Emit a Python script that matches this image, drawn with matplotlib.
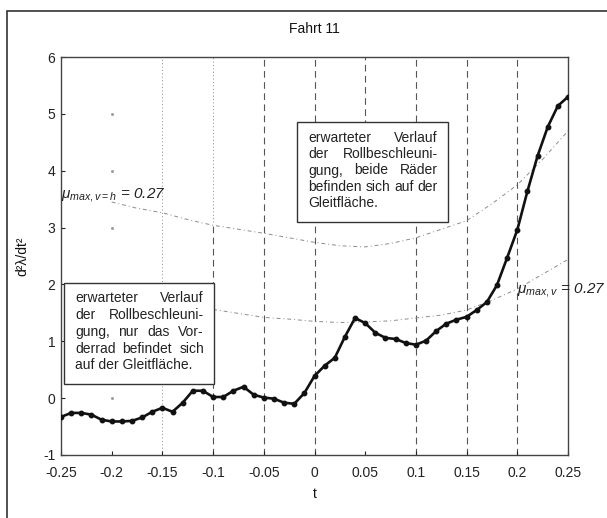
import numpy as np
import matplotlib
matplotlib.use("Agg")
import matplotlib.pyplot as plt
from matplotlib.patches import Rectangle

plt.rcParams["font.family"] = ["Liberation Sans", "DejaVu Sans"]
plt.rcParams["mathtext.fontset"] = "custom"
plt.rcParams["mathtext.rm"] = "Liberation Sans"
plt.rcParams["mathtext.it"] = "Liberation Sans:italic"
plt.rcParams["axes.unicode_minus"] = False

# measured roll acceleration, sampled every 0.01 s
t = np.round(np.arange(-0.25, 0.2501, 0.01), 2)
accel = [-0.33, -0.26, -0.26, -0.29, -0.38, -0.41, -0.41, -0.40, -0.34, -0.24,
         -0.17, -0.24, -0.08, 0.13, 0.13, 0.02, 0.02, 0.13, 0.20, 0.06,
         0.01, -0.01, -0.08, -0.10, 0.09, 0.39, 0.57, 0.71, 1.08, 1.41,
         1.32, 1.15, 1.06, 1.04, 0.97, 0.94, 1.01, 1.18, 1.31, 1.38,
         1.43, 1.55, 1.69, 1.99, 2.47, 2.96, 3.64, 4.26, 4.77, 5.14, 5.30]

# expected course, both wheels on the slip surface (mu_max,v=h = 0.27)
t_both = np.round(np.arange(-0.2, 0.2501, 0.025), 3)
exp_both = [3.45, 3.34, 3.26, 3.14, 3.04, 2.97, 2.90, 2.82, 2.74, 2.68,
            2.66, 2.72, 2.82, 2.97, 3.12, 3.42, 3.75, 4.20, 4.70]

# expected course, only the front wheel on the slip surface (mu_max,v = 0.27)
t_front = np.round(np.arange(-0.1, 0.2501, 0.025), 3)
exp_front = [1.56, 1.49, 1.42, 1.39, 1.35, 1.33, 1.34, 1.36, 1.41, 1.46,
             1.55, 1.72, 1.92, 2.18, 2.44]

xticks = [-0.25, -0.2, -0.15, -0.1, -0.05, 0, 0.05, 0.1, 0.15, 0.2, 0.25]
xticklabels = ["-0.25", "-0.2", "-0.15", "-0.1", "-0.05", "0", "0.05", "0.1",
               "0.15", "0.2", "0.25"]
yticks = [-1, 0, 1, 2, 3, 4, 5, 6]

box_front = ["erwarteter Verlauf", "der Rollbeschleuni-", "gung, nur das Vor-",
             "derrad befindet sich", "auf der Gleitfläche."]
box_both = ["erwarteter Verlauf", "der Rollbeschleuni-", "gung, beide Räder",
            "befinden sich auf der", "Gleitfläche."]

fig = plt.figure(figsize=(6.07, 5.18), dpi=100)
fig.patch.set_facecolor("white")
W, H = 607, 518

# outer frame of the figure window
fig.patches.append(Rectangle((7 / W, -0.2), 1.2, 1 - 11 / H + 0.2,
                             transform=fig.transFigure, fill=False,
                             edgecolor="#333333", linewidth=1.2))

ax = fig.add_axes([61 / W, 1 - 455 / H, (568 - 61) / W, (455 - 57) / H])
ax.set_xlim(-0.25, 0.25)
ax.set_ylim(-1, 6)

dash_col = "#555555"
dot_col = "#8a8a8a"
ax.vlines([-0.05, 0, 0.1, 0.15, 0.2], -1, 6, colors=dash_col,
          linestyles=(0, (6, 4)), linewidth=0.8, zorder=1)
ax.vlines(0.05, 4.0, 6, colors=dash_col, linestyles=(0, (6, 4)),
          linewidth=0.8, zorder=1)
ax.vlines(-0.1, -1, 3.1, colors=dash_col, linestyles=(0, (6, 4)),
          linewidth=0.8, zorder=1)
ax.vlines(-0.1, 3.1, 6, colors=dot_col, linestyles=(0, (1, 2.5)),
          linewidth=0.7, zorder=1)
ax.vlines(-0.15, -1, 6, colors=dot_col, linestyles=(0, (1, 2.5)),
          linewidth=0.7, zorder=1)
ax.plot(np.full(len(yticks[1:-1]), -0.2), yticks[1:-1], ls="none",
        marker="s", ms=1.0, color="#9a9a9a", zorder=1)

ax.plot(t_both, exp_both, color="#8c8c8c", linewidth=0.7,
        linestyle=(0, (4, 3, 1, 3)), zorder=2)
ax.plot(t_front, exp_front, color="#8c8c8c", linewidth=0.7,
        linestyle=(0, (4, 3, 1, 3)), zorder=2)

ax.plot(t, accel, color="#111111", linewidth=1.9, marker="o", ms=3.2,
        zorder=4)

ax.set_xticks(xticks)
ax.set_xticklabels(xticklabels)
ax.set_yticks(yticks)
ax.tick_params(direction="in", length=3, width=0.8, labelsize=10,
               colors="#222222", top=False, right=False)
ax.tick_params(axis="x", pad=8)
ax.tick_params(axis="y", pad=4)
for s in ax.spines.values():
    s.set_color("#444444")
    s.set_linewidth(1.0)

ax.set_title("Fahrt 11", fontsize=10, color="#111111", pad=17)
ax.set_xlabel("t", fontsize=10, color="#111111", labelpad=5)
ax.set_ylabel("d²λ/dt²", fontsize=10, color="#111111")
ax.yaxis.set_label_coords(-0.063, 0.5)

ax.text(-0.25, 3.58, r"$\mu_{max,v=h}$ = 0.27", fontsize=11, style="italic",
        va="center", ha="left", color="#222222", zorder=5)
ax.text(0.2, 1.9, r"$\mu_{max,v}$ = 0.27", fontsize=11, style="italic",
        va="center", ha="left", color="#222222", zorder=5, clip_on=False)


def ax_frac_y(py):
    return (455 - py) / (455 - 57)


def ax_frac_x(px):
    return (px - 61) / (568 - 61)


def text_box(lines, x0, x1, y0, y1, tx0, tx1, baselines):
    ax.add_patch(Rectangle((ax_frac_x(x0), ax_frac_y(y1)),
                           ax_frac_x(x1) - ax_frac_x(x0),
                           ax_frac_y(y0) - ax_frac_y(y1),
                           transform=ax.transAxes, facecolor="white",
                           edgecolor="#333333", linewidth=1.0, zorder=6))
    r = fig.canvas.get_renderer()
    inv = ax.transAxes.inverted()
    a, b = ax_frac_x(tx0), ax_frac_x(tx1)
    kw = dict(transform=ax.transAxes, va="baseline", ha="left", fontsize=10,
              color="#222222", zorder=7)
    for i, (line, yb) in enumerate(zip(lines, baselines)):
        yb = ax_frac_y(yb)
        words = line.split()
        if i == len(lines) - 1 or len(words) == 1:
            ax.text(a, yb, line, **kw)
            continue
        objs = [ax.text(a, yb, w, **kw) for w in words]
        widths = []
        for o in objs:
            bb = o.get_window_extent(r)
            widths.append(inv.transform((bb.x1, 0))[0]
                          - inv.transform((bb.x0, 0))[0])
        gap = (b - a - sum(widths)) / (len(words) - 1)
        x = a
        for o, w in zip(objs, widths):
            o.set_x(x)
            x += w + gap


text_box(box_front, 64, 214, 283, 384, 75, 204,
         [302.5, 319.2, 335.9, 352.6, 369.3])
text_box(box_both, 297, 448, 122, 222, 308, 438,
         [141.7, 158.1, 174.5, 190.9, 207.3])

fig.savefig("out.png", dpi=100)
